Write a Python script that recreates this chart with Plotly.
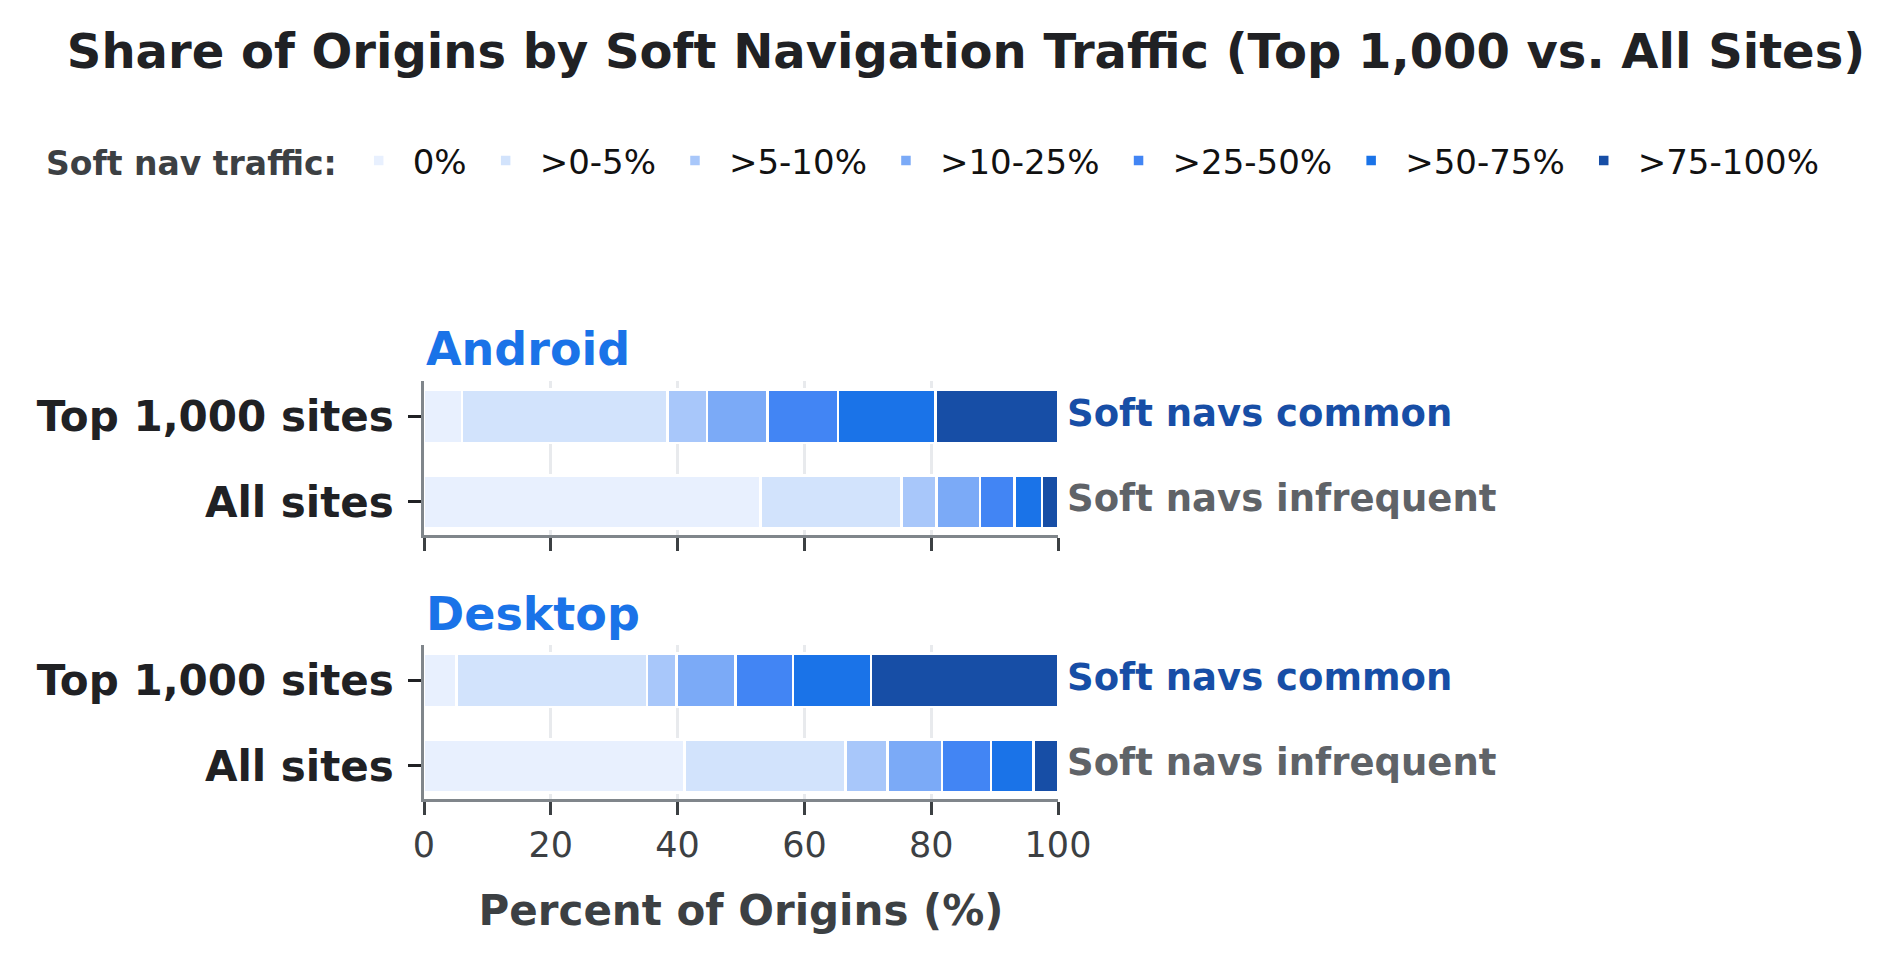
import plotly.graph_objects as go

W, H = 1896, 965

bins = ["0%", ">0-5%", ">5-10%", ">10-25%", ">25-50%", ">50-75%", ">75-100%"]
colors = ["#e8f0fe", "#d2e3fc", "#a8c7fa", "#7baaf7", "#4285f4", "#1a73e8", "#174ea6"]
groups = ["Top 1,000 sites", "All sites"]

# percent of origins per bin, [Top 1,000, All sites]
android_top = [6.0, 32.4, 6.2, 9.6, 11.1, 15.4, 19.3]
android_all = [53.1, 22.2, 5.5, 6.9, 5.4, 4.4, 2.5]
desktop_top = [5.1, 30.1, 4.6, 9.3, 9.1, 12.3, 29.5]
desktop_all = [41.1, 25.4, 6.6, 8.6, 7.7, 6.7, 3.9]

labels_right = ["Soft navs common", "Soft navs infrequent"]
label_colors = ["#174ea6", "#5f6368"]
panels = ["Android", "Desktop"]

FONT = "DejaVu Sans"

fig = go.Figure()
for i, b in enumerate(bins):
    for p, (top, allv) in enumerate([(android_top, android_all), (desktop_top, desktop_all)]):
        fig.add_trace(go.Bar(
            orientation="h",
            y=groups,
            x=[top[i], allv[i]],
            name=b,
            legendgroup=b,
            showlegend=(p == 0),
            marker=dict(color=colors[i], line=dict(color="white", width=2.5)),
            width=0.62,
            xaxis="x" if p == 0 else "x2",
            yaxis="y" if p == 0 else "y2",
            hovertemplate="%{y}: %{x}%<extra>" + b + "</extra>",
        ))

def ydom(top_px, bot_px):
    return [1 - bot_px / H, 1 - top_px / H]

xdom = [424 / W, 1058 / W]
yrange = [1.385, -0.41]
common_x = dict(
    range=[0, 100], domain=xdom, showgrid=True, gridcolor="#e8eaed", gridwidth=2.5,
    showline=True, linecolor="#80868b", linewidth=2.5, ticks="outside", ticklen=13,
    tickwidth=2.5, tickcolor="#3c4043", tickvals=[0, 20, 40, 60, 80, 100],
    zeroline=False, automargin=False,
    tickfont=dict(family=FONT, size=35, color="#3c4043"),
)
common_y = dict(
    type="category", categoryorder="array", categoryarray=groups, range=yrange,
    showline=True, linecolor="#80868b", linewidth=2.5, ticks="outside", ticklen=13,
    tickwidth=2.5, tickcolor="#202124", showgrid=False, zeroline=False, automargin=False,
    tickfont=dict(family=FONT, size=42, color="#202124", weight="bold"),
    ticklabelstandoff=6,
)

fig.update_layout(
    width=W, height=H,
    paper_bgcolor="white", plot_bgcolor="white",
    barmode="stack", bargap=0.38,
    margin=dict(l=0, r=0, t=0, b=0, autoexpand=False),
    title=dict(
        text="Share of Origins by Soft Navigation Traffic (Top 1,000 vs. All Sites)",
        x=966 / W, xanchor="center", xref="container",
        y=1 - 51 / H, yanchor="middle", yref="container",
        font=dict(family=FONT, size=48, color="#202124", weight="bold"),
    ),
    legend=dict(
        orientation="h", xref="paper", yref="paper",
        x=44 / W, xanchor="left", y=1 - 161 / H, yanchor="middle",
        title=dict(text="Soft nav traffic:", side="left",
                   font=dict(family=FONT, size=33, color="#3c4043", weight="bold")),
        font=dict(family=FONT, size=34, color="#111111"),
        traceorder="normal", itemwidth=58, itemclick=False,
    ),
    xaxis=dict(anchor="y", showticklabels=False, **common_x),
    xaxis2=dict(anchor="y2", showticklabels=True,
                title=dict(text="Percent of Origins (%)", standoff=32,
                           font=dict(family=FONT, size=42, color="#3c4043", weight="bold")),
                **common_x),
    yaxis=dict(anchor="x", domain=ydom(381, 535), **common_y),
    yaxis2=dict(anchor="x2", domain=ydom(645, 799), **common_y),
)

annotations = []
for p, (name, ytop) in enumerate(zip(panels, [349, 614])):
    annotations.append(dict(
        text=name, xref="x" if p == 0 else "x2", x=0, xanchor="left",
        yref="paper", y=1 - ytop / H, yanchor="middle", showarrow=False,
        font=dict(family=FONT, size=46, color="#1a73e8", weight="bold"),
    ))
    for g, lab, col in zip(groups, labels_right, label_colors):
        annotations.append(dict(
            text=lab, xref="x" if p == 0 else "x2", x=100, xanchor="left", xshift=7,
            yref="y" if p == 0 else "y2", y=g, yanchor="middle", yshift=3,
            showarrow=False,
            font=dict(family=FONT, size=37, color=col, weight="bold"),
        ))
fig.update_layout(annotations=annotations)

fig.write_html("out.html")
